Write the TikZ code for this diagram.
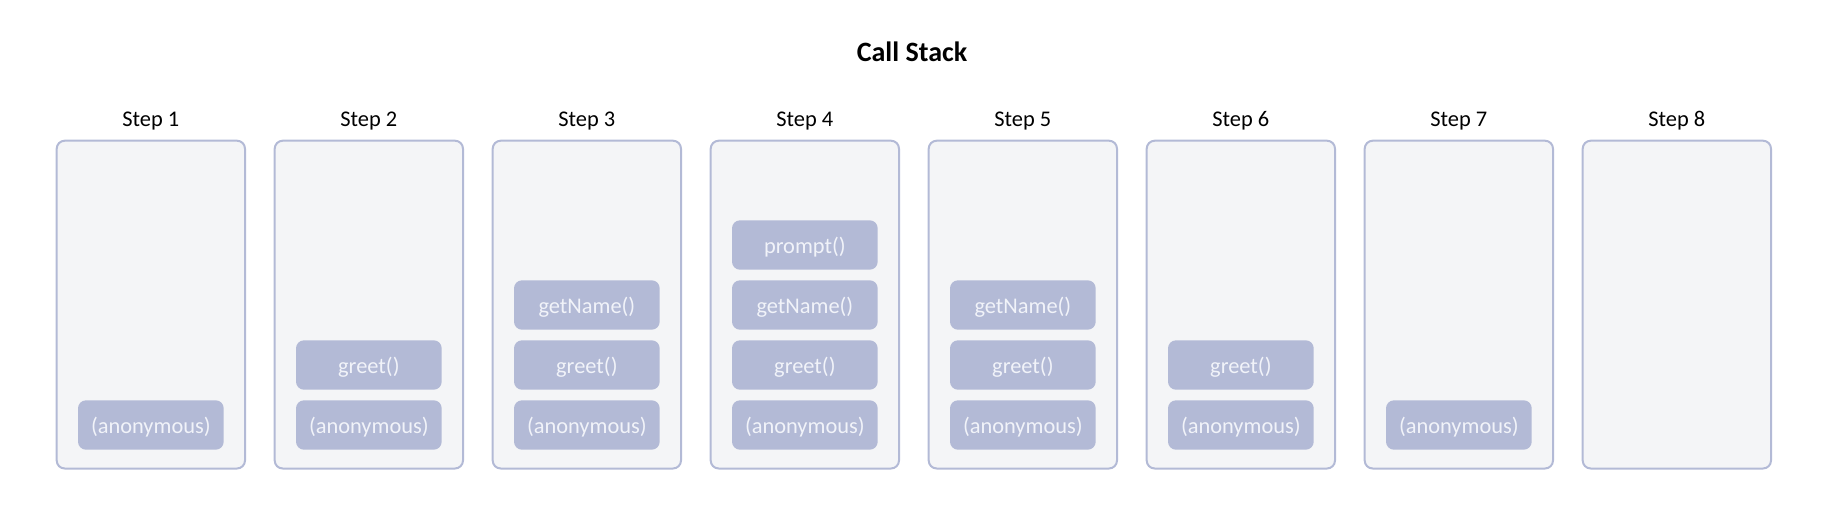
\documentclass[tikz,border=0pt]{standalone}
\usepackage{fontspec}
\setmainfont{Carlito}
\definecolor{boxfill}{HTML}{F4F5F7}
\definecolor{boxline}{HTML}{B3BAD6}
\definecolor{framefill}{HTML}{B3BAD6}
\definecolor{frametext}{HTML}{F1F3F9}
\tikzset{
  stackbox/.style={draw=boxline, fill=boxfill, line width=2pt, rounded corners=8pt,
    minimum width=188.3pt, minimum height=327.8pt, inner sep=0pt},
  framebox/.style={fill=framefill, rounded corners=8pt, minimum width=145.7pt,
    minimum height=49.4pt, inner sep=0pt, text=frametext,
    text height=20pt, text depth=3.4pt,
    font=\fontsize{22.4}{26}\selectfont},
  steplabel/.style={anchor=base, inner sep=0pt, font=\fontsize{22.4}{26}\selectfont},
  titlelabel/.style={anchor=base, inner sep=0pt, font=\fontsize{28}{32}\selectfont\bfseries}
}
\begin{document}
\begin{tikzpicture}[x=1pt,y=-1pt]
\useasboundingbox (0,0) rectangle (1826,528);
\node[titlelabel] (title) at (912,61) {Call Stack};
\foreach \i in {1,...,8} {
  \pgfmathsetmacro{\cx}{150.85+218*(\i-1)}
  \node[stackbox] (b\i) at (\cx,304.6) {};
  \node[steplabel] (s\i) at (\cx,126.7) {Step \i};
}
\node[framebox] (f10) at (150.85,425) {(anonymous)};
\node[framebox] (f20) at (368.85,425) {(anonymous)};
\node[framebox] (f21) at (368.85,365) {greet()};
\node[framebox] (f30) at (586.85,425) {(anonymous)};
\node[framebox] (f31) at (586.85,365) {greet()};
\node[framebox] (f32) at (586.85,305) {getName()};
\node[framebox] (f40) at (804.85,425) {(anonymous)};
\node[framebox] (f41) at (804.85,365) {greet()};
\node[framebox] (f42) at (804.85,305) {getName()};
\node[framebox] (f43) at (804.85,245) {prompt()};
\node[framebox] (f50) at (1022.85,425) {(anonymous)};
\node[framebox] (f51) at (1022.85,365) {greet()};
\node[framebox] (f52) at (1022.85,305) {getName()};
\node[framebox] (f60) at (1240.85,425) {(anonymous)};
\node[framebox] (f61) at (1240.85,365) {greet()};
\node[framebox] (f70) at (1458.85,425) {(anonymous)};
\end{tikzpicture}
\end{document}
